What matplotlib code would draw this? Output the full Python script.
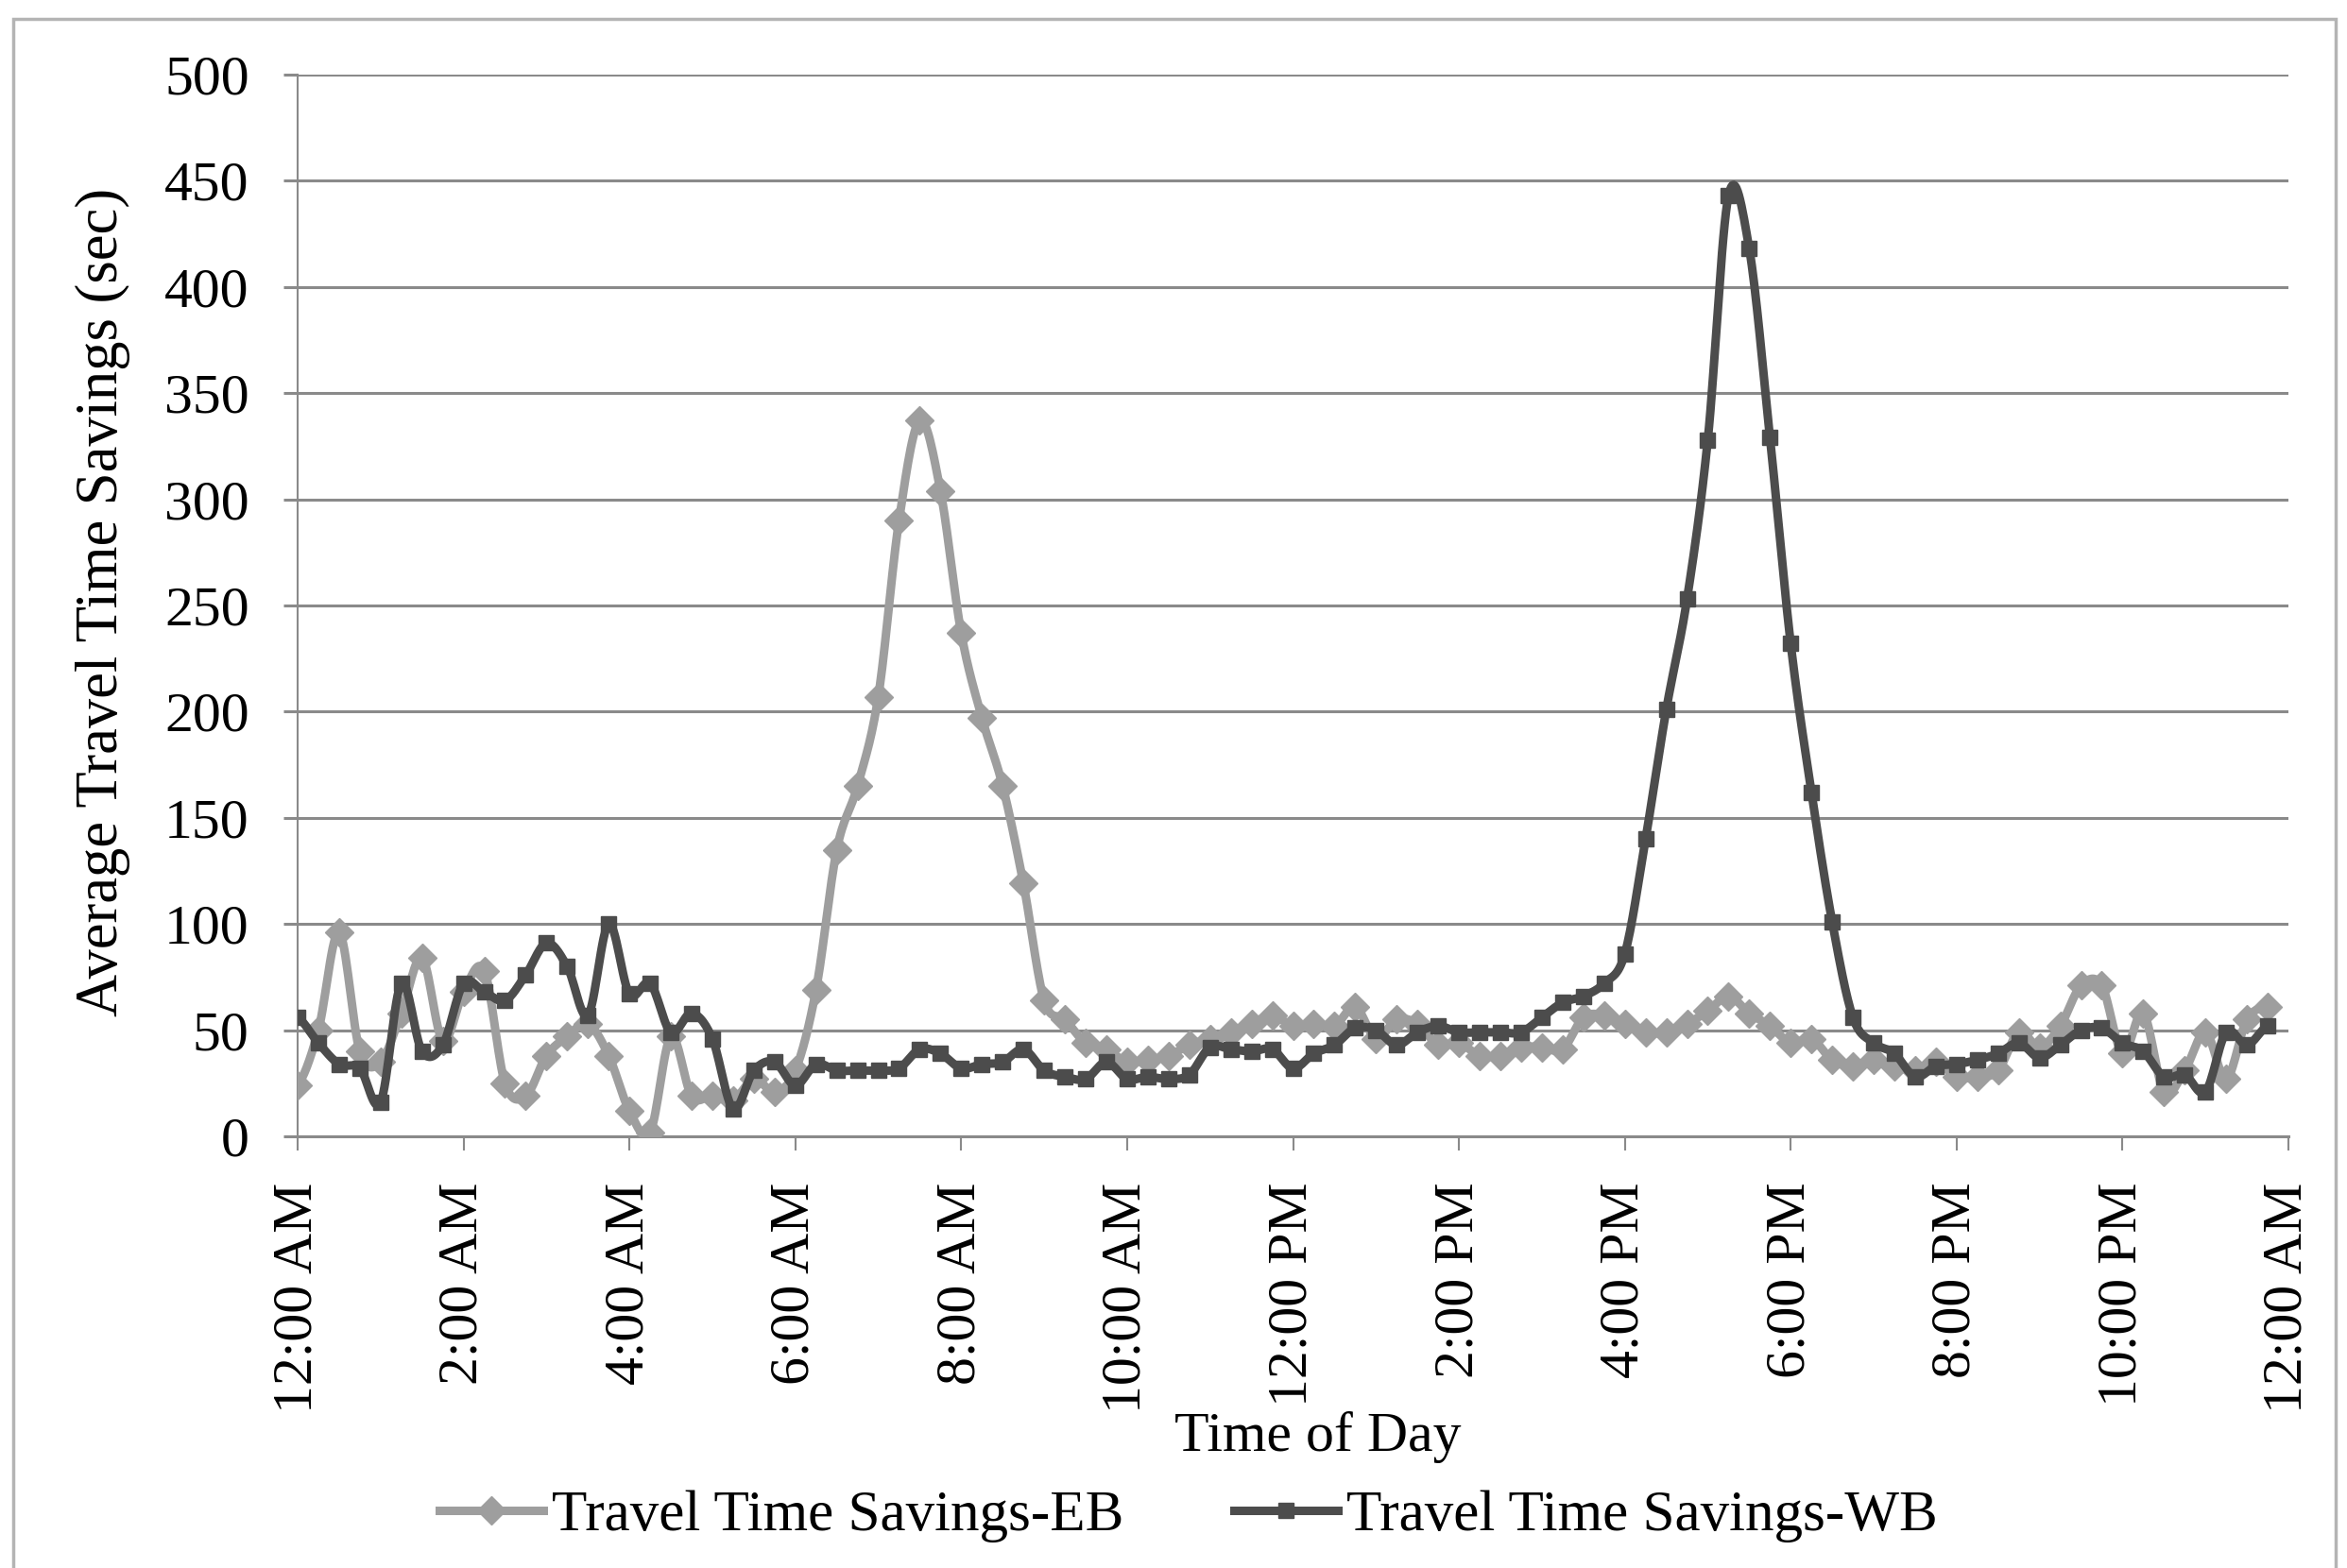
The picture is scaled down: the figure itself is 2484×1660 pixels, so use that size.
import numpy as np
import matplotlib
matplotlib.use("Agg")
import matplotlib.pyplot as plt
from matplotlib.lines import Line2D
from matplotlib.patches import Rectangle

# ---------------- data (15-minute intervals) ----------------
tick_labels = ["12:00 AM", "2:00 AM", "4:00 AM", "6:00 AM", "8:00 AM", "10:00 AM",
               "12:00 PM", "2:00 PM", "4:00 PM", "6:00 PM", "8:00 PM", "10:00 PM",
               "12:00 AM"]

eb_savings = [24, 50, 96, 40, 35, 58, 84, 45, 68, 78, 25, 19, 38, 47, 53, 38,
              12, 2, 47, 19, 19, 17, 27, 21, 31, 69, 135, 165, 207, 290, 337, 304,
              237, 197, 165, 119, 64, 55, 44, 41, 35, 36, 38, 43, 46, 49, 53, 57,
              52, 53, 52, 61, 46, 55, 53, 43, 44, 38, 38, 42, 42, 41, 56, 57,
              53, 49, 49, 53, 59, 66, 58, 52, 44, 46, 36, 33, 36, 33, 31, 35,
              28, 28, 31, 49, 42, 52, 71, 71, 39, 58, 21, 31, 49, 27, 55, 61]

wb_savings = [56, 44, 34, 32, 16, 72, 40, 43, 72, 68, 64, 76, 91, 80, 57, 100,
              67, 72, 49, 58, 46, 13, 31, 35, 24, 34, 31, 31, 31, 32, 41, 39,
              32, 34, 35, 41, 31, 28, 27, 35, 27, 28, 27, 29, 42, 41, 40, 41,
              32, 39, 43, 51, 50, 43, 49, 52, 49, 49, 49, 49, 56, 63, 66, 72,
              86, 140, 201, 253, 328, 443, 418, 329, 232, 162, 101, 56, 44, 39, 28, 33,
              34, 36, 39, 44, 37, 43, 50, 51, 44, 40, 28, 29, 21, 49, 43, 52]

series_names = ["Travel Time Savings-EB", "Travel Time Savings-WB"]


def smooth_curve(y, steps=16):
    """Catmull-Rom smoothing (like Excel's 'smoothed line') through the data points."""
    y = np.asarray(y, dtype=float)
    n = len(y)
    xs, ys = [], []
    for i in range(n - 1):
        p0 = y[i - 1] if i > 0 else y[i]
        p1 = y[i]
        p2 = y[i + 1]
        p3 = y[i + 2] if i + 2 < n else y[i + 1]
        t = np.linspace(0, 1, steps, endpoint=False)
        c1 = p1 + (p2 - p0) / 6.0
        c2 = p2 - (p3 - p1) / 6.0
        yy = ((1 - t) ** 3) * p1 + 3 * ((1 - t) ** 2) * t * c1 + 3 * (1 - t) * t ** 2 * c2 + t ** 3 * p2
        xs.append(i + t)
        ys.append(yy)
    xs.append(np.array([n - 1]))
    ys.append(np.array([y[-1]]))
    return np.concatenate(xs), np.concatenate(ys)


plt.rcParams['font.family'] = ['Liberation Serif', 'DejaVu Serif']

W, H = 2484, 1660
fig = plt.figure(figsize=(W / 100, H / 100), dpi=100)
fig.patch.set_facecolor('white')

# outer chart border
fig.patches.append(Rectangle((14 / W, -0.01), (2472 - 14) / W, 1 - 20 / H + 0.01,
                             transform=fig.transFigure, fill=False,
                             edgecolor='#b4b4b4', linewidth=2.5, clip_on=False))

left, right = 315 / W, 2422 / W
bottom, top = 1 - 1203 / H, 1 - 79 / H
ax = fig.add_axes([left, bottom, right - left, top - bottom])

x = np.arange(len(eb_savings))
eb_color = '#9e9e9e'
wb_color = '#4c4c4c'
lw = 6.5
eb_ms = 15
wb_ms = 11.5

sx, sy = smooth_curve(eb_savings)
ax.plot(sx, sy, color=eb_color, lw=lw, solid_capstyle='round', zorder=3)
ax.plot(x, eb_savings, linestyle='none', marker='D', markersize=eb_ms,
        color=eb_color, markeredgecolor=eb_color, zorder=4)

sx, sy = smooth_curve(wb_savings)
ax.plot(sx, sy, color=wb_color, lw=lw, solid_capstyle='round', zorder=5)
ax.plot(x, wb_savings, linestyle='none', marker='s', markersize=wb_ms,
        color=wb_color, markeredgecolor=wb_color, zorder=6)

ax.set_xlim(0, 96)
ax.set_ylim(0, 500)
ax.set_yticks(np.arange(0, 501, 50))
ax.set_xticks(np.arange(0, 97, 8))
ax.set_xticklabels(tick_labels, rotation=90)

ax.grid(axis='y', color='#8a8a8a', linewidth=2.2, zorder=0)
ax.set_axisbelow(True)
for s in ['top', 'right']:
    ax.spines[s].set_visible(False)
ax.spines['left'].set_color('#8a8a8a')
ax.spines['left'].set_linewidth(1.5)
ax.spines['bottom'].set_color('#8a8a8a')
ax.spines['bottom'].set_linewidth(2.2)

ax.tick_params(axis='y', length=11, width=2.2, color='#8a8a8a', pad=26, labelsize=43)
ax.tick_params(axis='x', length=11, width=1.5, color='#8a8a8a', pad=24, labelsize=43)

ax.set_ylabel("Average Travel Time Savings (sec)", fontsize=45)
ax.yaxis.set_label_coords(-0.098, 0.503)
ax.yaxis.label.set_va('center')
ax.set_xlabel("Time of Day", fontsize=43)
ax.xaxis.set_label_coords(0.5126, -0.283)
ax.xaxis.label.set_va('center')

handles = [Line2D([0], [0], color=eb_color, lw=lw, marker='D', markersize=eb_ms),
           Line2D([0], [0], color=wb_color, lw=lw, marker='s', markersize=wb_ms)]
ax.legend(handles, series_names, loc='center', bbox_to_anchor=(0.4476, -0.3577),
          ncol=2, frameon=False, fontsize=44, handlelength=1.8, handletextpad=0.15,
          columnspacing=1.9)

fig.savefig("out.png", dpi=100, facecolor='white')
